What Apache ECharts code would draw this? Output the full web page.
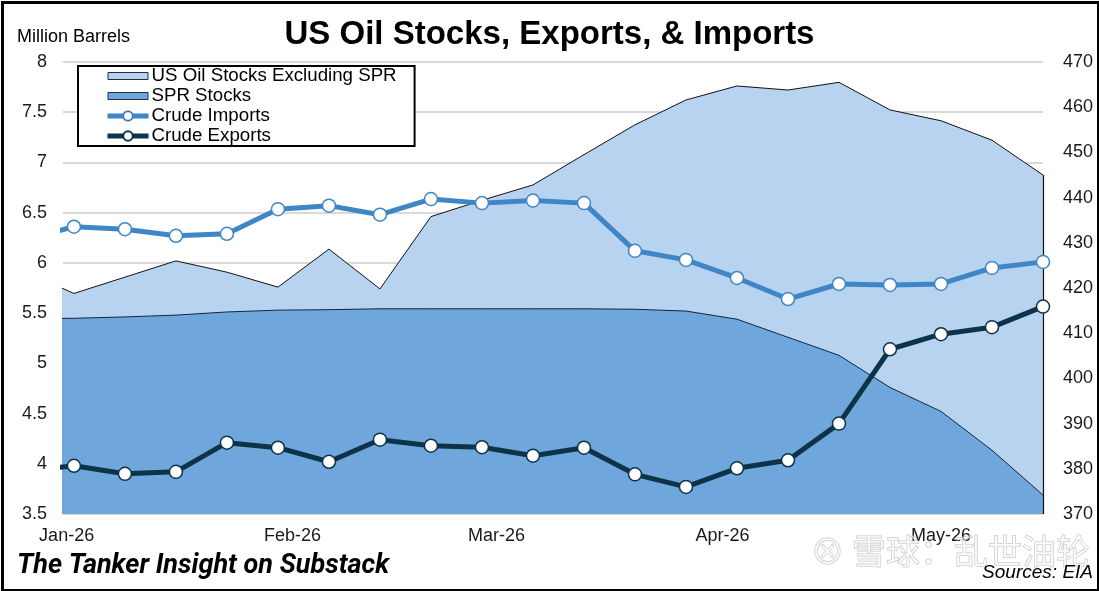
<!DOCTYPE html>
<html><head><meta charset="utf-8">
<script src="https://cdn.jsdelivr.net/npm/echarts@6/dist/echarts.min.js"></script>
<style>html,body{margin:0;padding:0;background:#fff}#c{width:1099px;height:591px}</style>
</head><body><div id="c"></div>
<script>
// ---- data (weekly, EIA) ----
const weekDates = ['2025-12-26','2026-01-02','2026-01-09','2026-01-16','2026-01-23','2026-01-30',
  '2026-02-06','2026-02-13','2026-02-20','2026-02-27','2026-03-06','2026-03-13','2026-03-20',
  '2026-03-27','2026-04-03','2026-04-10','2026-04-17','2026-04-24','2026-05-01','2026-05-08','2026-05-15'];
const stocksExSPR = [423.8,418.8,422.4,426.0,423.5,420.2,428.6,419.8,435.8,439.4,442.8,449.5,456.1,461.6,464.7,463.8,465.5,459.4,457.0,452.7,445.0];
const sprStocks   = [413.2,413.3,413.6,414.0,414.7,415.1,415.2,415.4,415.4,415.4,415.4,415.4,415.3,414.9,413.1,409.1,405.1,398.0,392.7,384.1,374.2];
const crudeImports = [6.23,6.36,6.335,6.27,6.29,6.535,6.57,6.48,6.635,6.595,6.62,6.595,6.12,6.03,5.85,5.64,5.79,5.78,5.79,5.95,6.01];
const crudeExports = [3.93,3.98,3.90,3.92,4.21,4.16,4.02,4.24,4.18,4.165,4.08,4.16,3.895,3.77,3.955,4.035,4.40,5.14,5.29,5.36,5.565];
const monthTickDates = ['2026-01-01','2026-02-01','2026-03-01','2026-04-01','2026-05-01'];
const monthTickLabels = ['Jan-26','Feb-26','Mar-26','Apr-26','May-26'];
const seriesNames = ['US Oil Stocks Excluding SPR','SPR Stocks','Crude Imports','Crude Exports'];

function ts(s){const p=s.split('-').map(Number);return Date.UTC(p[0],p[1]-1,p[2]);}
const xs = weekDates.map(ts);
const pair = arr => arr.map((v,i)=>[xs[i],v]);
const tickTs = monthTickDates.map(ts);
const DAY = 86400000;

const cLight='#b8d3ef', cSpr='#6fa7dc', cImp='#3f86c7', cExp='#0d3349';
const font = 'Liberation Sans, Arial, sans-serif';

const chart = echarts.init(document.getElementById('c'));
chart.setOption({
  animation:false,
  backgroundColor:'#fff',
  textStyle:{fontFamily:font},
  title:{text:'US Oil Stocks, Exports, & Imports', left:'center', top:13,
    textStyle:{fontFamily:font,fontSize:33,fontWeight:'bold',color:'#000'}},
  graphic:[
    {type:'rect', left:0, top:0, z:100, shape:{x:1.5,y:1.5,width:1096,height:588},
     style:{fill:'none',stroke:'#000',lineWidth:3}},
    {type:'text', left:17, top:28, style:{text:'Million Barrels', font:'18px '+font, fill:'#000'}},
    {type:'text', left:17, top:553, style:{text:'The Tanker Insight on Substack', font:'italic bold 27px Roboto, sans-serif', fill:'#000'}},
    {type:'text', right:6, top:563, z:50, style:{text:'Sources: EIA', font:'italic 19px '+font, fill:'#000'}},
    {type:'text', left:810, top:534, z:40, style:{text:'⊗ 雪球：乱世油轮', font:'34px "Noto Sans CJK SC", sans-serif',
      fill:'rgba(255,255,255,0.55)', stroke:'rgba(150,150,150,0.55)', lineWidth:1}}
  ],
  legend:{
    orient:'vertical', left:78, top:66,
    backgroundColor:'#fff', borderColor:'#000', borderWidth:2,
    padding:[0,18,0,27], itemGap:0, itemWidth:41, itemHeight:12,
    textStyle:{fontFamily:font,fontSize:18.7,color:'#000',lineHeight:20, padding:[0,0,0,-2]},
    data:[
      {name:seriesNames[0], icon:'path://M0,0M0,2.5h40v7h-40zM0,12', itemStyle:{color:cLight,borderColor:'#1f2d3d',borderWidth:1}},
      {name:seriesNames[1], icon:'path://M0,0M0,2.5h40v7h-40zM0,12', itemStyle:{color:cSpr,borderColor:'#1f2d3d',borderWidth:1}},
      {name:seriesNames[2], lineStyle:{width:5, color:cImp}},
      {name:seriesNames[3], lineStyle:{width:5, color:cExp}}
    ]
  },
  grid:{left:63, right:56, top:62, bottom:77},
  xAxis:{
    type:'value', min:ts('2025-12-31')+DAY/2, max:ts('2026-05-15'),
    axisLine:{show:true, lineStyle:{color:'#d9d9d9', width:2}},
    axisTick:{show:false}, splitLine:{show:false},
    axisLabel:{customValues:tickTs, margin:13, fontSize:18, color:'#1a1a1a', fontFamily:font,
      formatter:(v)=>{const i=tickTs.indexOf(v);return i>=0?monthTickLabels[i]:'';}}
  },
  yAxis:[
    {type:'value', min:3.5, max:8, interval:0.5, position:'left',
     axisLine:{show:false}, axisTick:{show:false},
     axisLabel:{fontSize:18, color:'#1a1a1a', margin:16, fontFamily:font},
     splitLine:{show:true, lineStyle:{color:'#d9d9d9', width:2}}},
    {type:'value', min:370, max:470, interval:10, position:'right',
     axisLine:{show:false}, axisTick:{show:false},
     axisLabel:{fontSize:18, color:'#1a1a1a', margin:20, fontFamily:font},
     splitLine:{show:false}}
  ],
  series:[
    {name:seriesNames[0], type:'line', yAxisIndex:1, data:pair(stocksExSPR), showSymbol:false, symbol:'none',
     lineStyle:{color:'#111', width:1}, itemStyle:{color:cLight},
     areaStyle:{color:cLight, opacity:1, origin:'start'}, z:2},
    {name:seriesNames[1], type:'line', yAxisIndex:1, data:pair(sprStocks), showSymbol:false, symbol:'none',
     lineStyle:{color:'#12263a', width:1}, itemStyle:{color:cSpr},
     areaStyle:{color:cSpr, opacity:1, origin:'start'}, z:3,
     markLine:{silent:true, symbol:'none', label:{show:false}, lineStyle:{color:'#111',width:1.2,type:'solid'},
       data:[[{coord:[xs[xs.length-1],370]},{coord:[xs[xs.length-1],stocksExSPR[stocksExSPR.length-1]]}]]}},
    {name:seriesNames[2], type:'line', yAxisIndex:0, data:pair(crudeImports), symbol:'circle', symbolSize:13,
     lineStyle:{color:cImp, width:5}, itemStyle:{color:'#fff', borderColor:cImp, borderWidth:1.5}, z:5},
    {name:seriesNames[3], type:'line', yAxisIndex:0, data:pair(crudeExports), symbol:'circle', symbolSize:13,
     lineStyle:{color:cExp, width:5}, itemStyle:{color:'#fff', borderColor:cExp, borderWidth:1.5}, z:6}
  ]
});
</script></body></html>
